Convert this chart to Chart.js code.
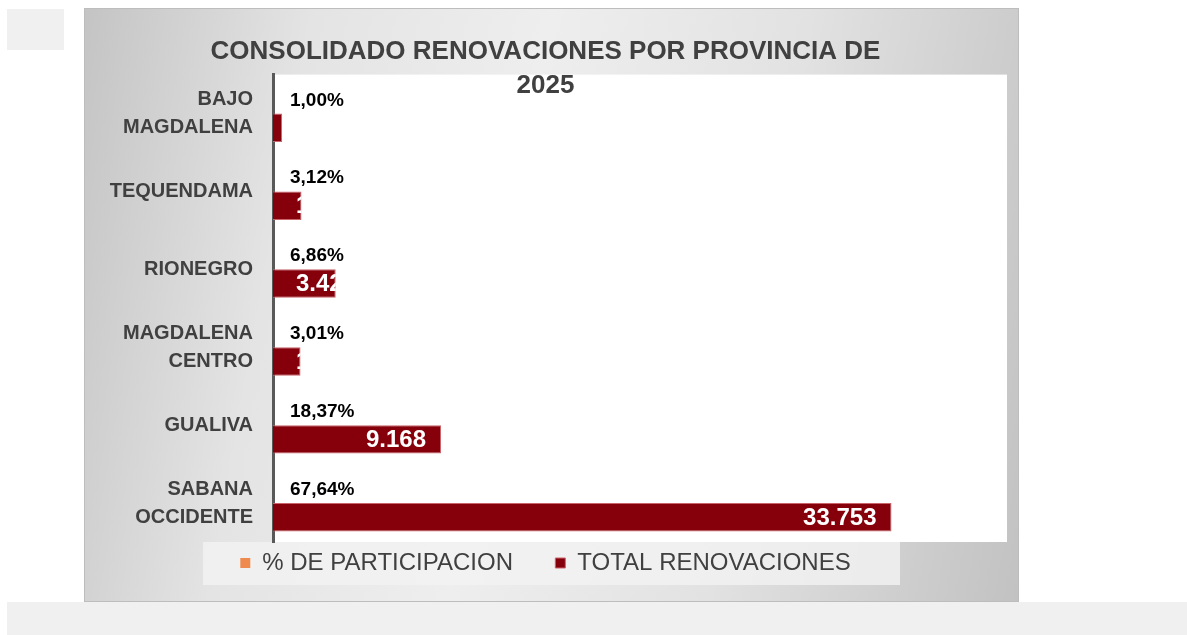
<!DOCTYPE html>
<html>
<head>
<meta charset="utf-8">
<script src="https://cdn.jsdelivr.net/npm/chart.js@4.4.1/dist/chart.umd.min.js"></script>
<style>
    html, body { margin: 0; padding: 0; background: #fff; }
    body { width: 1187px; height: 635px; position: relative; overflow: hidden; }
    .caja-chica { position: absolute; left: 7px; top: 9px; width: 57px; height: 41px; background: #f0f0f0; }
    .franja { position: absolute; left: 7px; top: 602px; width: 1180px; height: 33px; background: #f0f0f0; }
    .panel {
        position: absolute; left: 84px; top: 8px; width: 933px; height: 592px;
        border: 1px solid #bdbdbd;
        background: linear-gradient(100deg, #c4c4c4 0%, #e4e4e4 22%, #eeeeee 45%, #e2e2e2 70%, #c2c2c2 100%);
    }
    .panel canvas { position: absolute; left: 0; top: 0; }
</style>
</head>
<body>
<div class="caja-chica"></div>
<div class="franja"></div>
<div class="panel"><canvas id="provincias-chart" width="933" height="592"></canvas></div>
<script>
const provincias = [["BAJO", "MAGDALENA"], "TEQUENDAMA", "RIONEGRO", ["MAGDALENA", "CENTRO"], "GUALIVA", ["SABANA", "OCCIDENTE"]];
const participacion = [0.0100, 0.0312, 0.0686, 0.0301, 0.1837, 0.6764];
const totalRenovaciones = [499, 1557, 3423, 1502, 9168, 33753];
const ejeMax = 40000;

const fuente = '"Liberation Sans Narrow", "Arial Narrow", "Liberation Sans", Arial, sans-serif';

function formatoMiles(n) {
    return String(n).replace(/\B(?=(\d{3})+(?!\d))/g, ".");
}
function formatoPct(v) {
    return (v * 100).toFixed(2).replace(".", ",") + "%";
}

// fondo blanco del area de trazado y caja de la leyenda
const fondoPlugin = {
    id: "fondo",
    beforeDraw(chart) {
        const { ctx, chartArea, legend } = chart;
        ctx.save();
        ctx.fillStyle = "rgba(242,242,242,0.8)";
        const lw = 697;
        ctx.fillRect(chart.width / 2 - lw / 2, legend.top, lw, legend.height);
        ctx.fillStyle = "#ffffff";
        ctx.fillRect(chartArea.left, chartArea.top, chartArea.right - chartArea.left + 1, chartArea.bottom - chartArea.top);
        ctx.restore();
    }
};

// etiquetas de datos (porcentaje arriba, total dentro de la barra)
const etiquetasPlugin = {
    id: "etiquetas",
    afterDatasetsDraw(chart) {
        const ctx = chart.ctx;
        ctx.save();
        chart.getDatasetMeta(0).data.forEach((bar, i) => {
            ctx.font = "bold 19px " + fuente;
            ctx.fillStyle = "#000000";
            ctx.textAlign = "left";
            ctx.textBaseline = "middle";
            ctx.fillText(formatoPct(participacion[i]), bar.x + 17, bar.y + 1);
        });
        chart.getDatasetMeta(1).data.forEach((bar, i) => {
            const texto = formatoMiles(totalRenovaciones[i]);
            ctx.font = "bold 24px " + fuente;
            const w = ctx.measureText(texto).width;
            const x = Math.max(bar.x - 15 - w, bar.base + 23);
            ctx.save();
            ctx.beginPath();
            ctx.rect(bar.base, bar.y - bar.height / 2, bar.x - bar.base, bar.height);
            ctx.clip();
            ctx.fillStyle = "#ffffff";
            ctx.textAlign = "left";
            ctx.textBaseline = "middle";
            ctx.fillText(texto, x, bar.y + 1);
            ctx.restore();
        });
        ctx.restore();
    }
};

const ctx = document.getElementById("provincias-chart").getContext("2d");
new Chart(ctx, {
    type: "bar",
    data: {
        labels: provincias,
        datasets: [
            {
                label: "% DE PARTICIPACION",
                data: participacion,
                backgroundColor: "#ee8a4e",
                borderColor: "#f5b58f",
                borderWidth: 0
            },
            {
                label: "TOTAL RENOVACIONES",
                data: totalRenovaciones,
                backgroundColor: "#86000b",
                borderColor: "#c9646b",
                borderWidth: 1
            }
        ]
    },
    options: {
        indexAxis: "y",
        responsive: false,
        animation: false,
        categoryPercentage: 0.73,
        barPercentage: 1,
        layout: { padding: { top: 0, left: 0, right: 12, bottom: 16 } },
        plugins: {
            tooltip: { enabled: false },
            title: {
                display: true,
                text: ["CONSOLIDADO RENOVACIONES POR PROVINCIA DE", "2025"],
                color: "#404040",
                font: { family: fuente, size: 26, weight: "bold", lineHeight: 1.3 },
                padding: { top: 26, bottom: -28 }
            },
            legend: {
                position: "bottom",
                labels: {
                    color: "#404040",
                    boxWidth: 10,
                    boxHeight: 10,
                    padding: 9,
                    font: { family: fuente, size: 24 },
                    generateLabels(chart) {
                        const items = Chart.defaults.plugins.legend.labels.generateLabels(chart);
                        items[0].text = items[0].text + "     ";
                        return items;
                    }
                }
            }
        },
        scales: {
            x: { display: false, min: 0, max: ejeMax },
            y: {
                grid: { display: false, drawTicks: false },
                border: { display: true, color: "#595959", width: 3 },
                ticks: {
                    color: "#404040",
                    padding: 20,
                    autoSkip: false,
                    font: { family: fuente, size: 20, weight: "bold", lineHeight: 1.4 }
                },
                afterFit(scale) { scale.width = 188; }
            }
        }
    },
    plugins: [fondoPlugin, etiquetasPlugin]
});
</script>
</body>
</html>
